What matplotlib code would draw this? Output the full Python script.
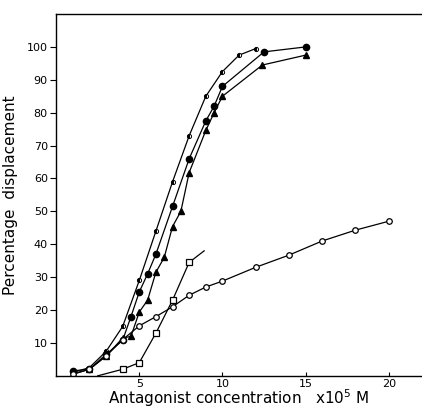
import matplotlib
matplotlib.use("Agg")
import matplotlib.pyplot as plt

# curve A: small markers, leftmost steep curve
xa = [1, 2, 3, 4, 5, 6, 7, 8, 9, 10, 11, 12]
ya = [1, 2.5, 7.4, 15, 29, 44, 59, 73, 85, 92.5, 97.5, 99.5]
# curve B: large filled circles
xb = [1, 2, 3, 4, 4.5, 5, 5.5, 6, 7, 8, 9, 9.5, 10, 12.5, 15]
yb = [1.5, 2, 6.5, 10.8, 18, 25.5, 31, 37, 51.5, 66, 77.5, 82, 88, 98.5, 100]
# curve C: filled triangles
xc = [1, 2, 3, 4, 4.5, 5, 5.5, 6, 6.5, 7, 7.5, 8, 9, 9.5, 10, 12.4, 15]
yc = [0.5, 2, 6, 11.5, 12, 19.4, 23, 31.5, 36, 45.4, 50, 61.8, 74.6, 80, 85, 94.5, 97.5]
# open circles
xo = [1, 2, 3, 4, 5, 6, 7, 8, 9, 10, 12, 14, 16, 18, 20]
yo = [0.5, 2, 6, 11, 15.2, 18, 21, 24.5, 27, 28.8, 33, 36.7, 41, 44.3, 47]
# open squares
xs = [4, 5, 6, 7, 8]
ys = [2, 4, 13, 23, 34.5]

fig = plt.figure(figsize=(4.22, 4.13), dpi=100)
ax = fig.add_axes([0.133, 0.09, 0.867, 0.876])

lw = 0.9
ax.plot(xa, ya, color="black", lw=lw, marker="o", ms=3, mfc="black", fillstyle="left", mfcalt="white", mew=0.7)
ax.plot(xb, yb, color="black", lw=lw, marker="o", ms=4.5, mfc="black")
ax.plot(xc, yc, color="black", lw=lw, marker="^", ms=3.8, mfc="black")
ax.plot(xo, yo, color="black", lw=lw, marker="o", ms=4, mfc="white", mew=0.9)
ax.plot([2.5] + xs + [8.9], [0] + ys + [38], color="black", lw=lw)
ax.plot(xs, ys, ls="none", marker="s", ms=4, mfc="white", mec="black", mew=0.9)

ax.set_xlim(0, 22)
ax.set_ylim(0, 110)
ax.set_xticks([5, 10, 15, 20])
ax.set_yticks(range(10, 101, 10))
ax.spines["right"].set_visible(False)
for s in ["left", "bottom", "top"]:
    ax.spines[s].set_linewidth(1.0)
ax.tick_params(axis="x", direction="in", length=3, labelsize=8, pad=2)
ax.tick_params(axis="y", direction="out", length=4, labelsize=8, pad=2)

ax.set_ylabel("Percentage  displacement", fontsize=11, labelpad=6)
ax.set_xlabel("Antagonist concentration   x10$^5$ M", fontsize=11, labelpad=-1)

fig.savefig("out.png", dpi=100)
